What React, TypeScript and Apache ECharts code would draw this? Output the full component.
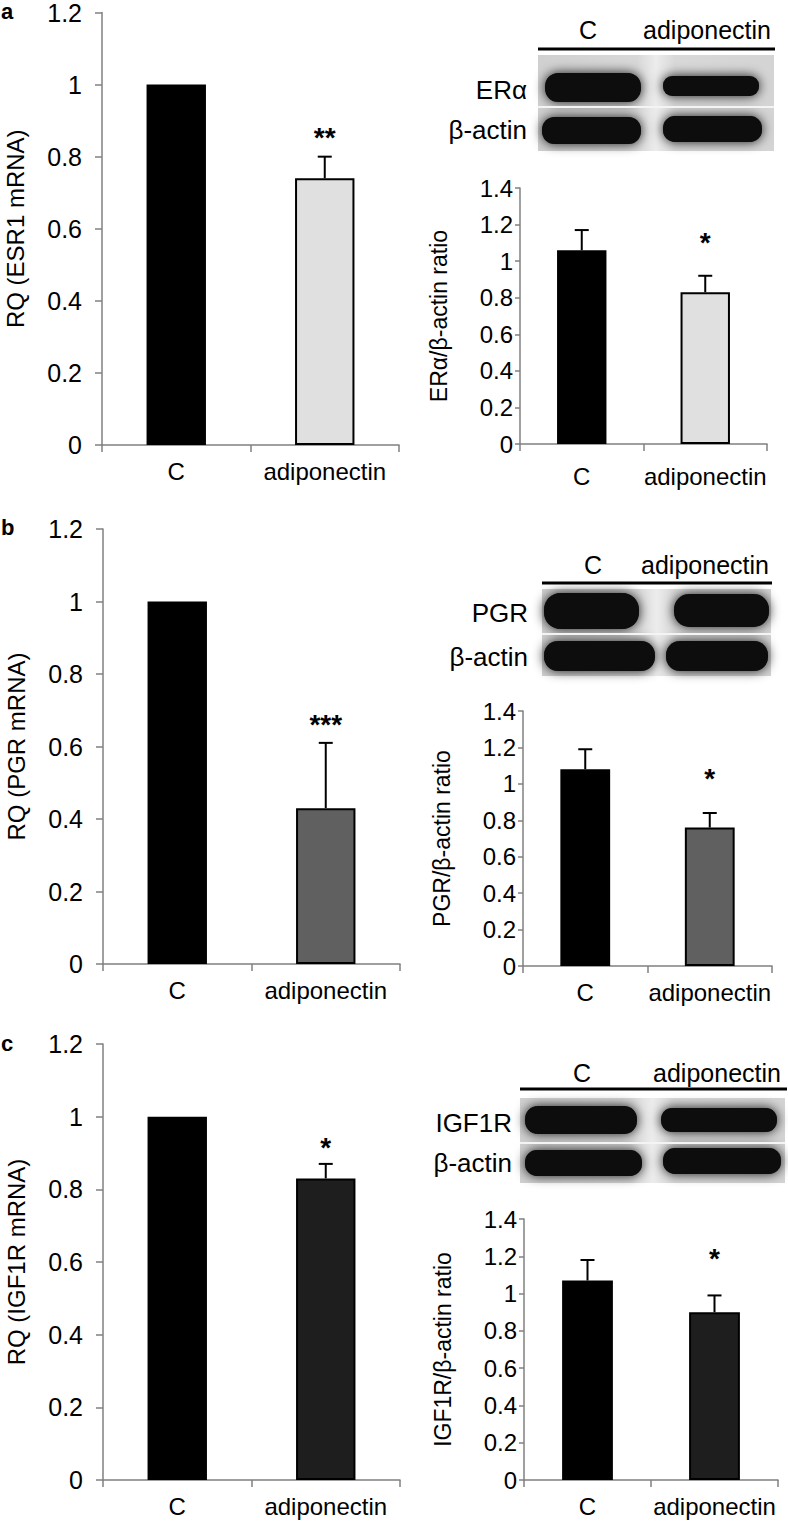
import React, { useEffect, useRef } from "react";
import * as echarts from "echarts";

// ---------- data ----------
const categories = ["C", "adiponectin"];

const esr1Mrna = [1.0, 0.74];
const esr1MrnaErr = [0, 0.06];
const esr1MrnaSig = ["", "**"];

const eraRatio = [1.06, 0.83];
const eraRatioErr = [0.11, 0.09];
const eraRatioSig = ["", "*"];

const pgrMrna = [1.0, 0.43];
const pgrMrnaErr = [0, 0.18];
const pgrMrnaSig = ["", "***"];

const pgrRatio = [1.08, 0.76];
const pgrRatioErr = [0.11, 0.08];
const pgrRatioSig = ["", "*"];

const igf1rMrna = [1.0, 0.83];
const igf1rMrnaErr = [0, 0.04];
const igf1rMrnaSig = ["", "*"];

const igf1rRatio = [1.07, 0.9];
const igf1rRatioErr = [0.11, 0.09];
const igf1rRatioSig = ["", "*"];

const mrnaAxisMax = 1.2;
const ratioAxisMax = 1.4;
const tickStep = 0.2;

const yNames = [
  "RQ (ESR1 mRNA)",
  "ERα/β-actin ratio",
  "RQ (PGR mRNA)",
  "PGR/β-actin ratio",
  "RQ (IGF1R mRNA)",
  "IGF1R/β-actin ratio",
];
const panelLetters = ["a", "b", "c"];
const blotProteins = ["ERα", "PGR", "IGF1R"];
const loadingLabel = "β-actin";

// ---------- styling / layout ----------
const FONT = "'Liberation Sans', Arial, Helvetica, sans-serif";
const AXIS_GRAY = "#808080";
const adipColors = ["#e0e0e0", "#606060", "#1e1e1e"];

type ChartDef = {
  values: number[];
  errs: number[];
  sigs: string[];
  max: number;
  name: string;
  grid: { left: number; top: number; width: number; height: number };
  adipColor: string;
  right: boolean;
  starOffset: number;
  xMargin: number;
};

const charts: ChartDef[] = [
  { values: esr1Mrna, errs: esr1MrnaErr, sigs: esr1MrnaSig, max: mrnaAxisMax, name: yNames[0], grid: { left: 102, top: 10, width: 297, height: 435 }, adipColor: adipColors[0], right: false, starOffset: 19, xMargin: 14 },
  { values: eraRatio, errs: eraRatioErr, sigs: eraRatioSig, max: ratioAxisMax, name: yNames[1], grid: { left: 520, top: 188, width: 247, height: 256 }, adipColor: adipColors[0], right: true, starOffset: 33, xMargin: 20 },
  { values: pgrMrna, errs: pgrMrnaErr, sigs: pgrMrnaSig, max: mrnaAxisMax, name: yNames[2], grid: { left: 103, top: 529, width: 297, height: 435 }, adipColor: adipColors[1], right: false, starOffset: 18, xMargin: 14 },
  { values: pgrRatio, errs: pgrRatioErr, sigs: pgrRatioSig, max: ratioAxisMax, name: yNames[3], grid: { left: 523, top: 711, width: 249, height: 255 }, adipColor: adipColors[1], right: true, starOffset: 35, xMargin: 14 },
  { values: igf1rMrna, errs: igf1rMrnaErr, sigs: igf1rMrnaSig, max: mrnaAxisMax, name: yNames[4], grid: { left: 103, top: 1044, width: 297, height: 436 }, adipColor: adipColors[2], right: false, starOffset: 16, xMargin: 14 },
  { values: igf1rRatio, errs: igf1rRatioErr, sigs: igf1rRatioSig, max: ratioAxisMax, name: yNames[5], grid: { left: 524, top: 1219, width: 254, height: 261 }, adipColor: adipColors[2], right: true, starOffset: 37, xMargin: 14 },
];

// blot layout (decorative western-blot imitations)
type Blot = {
  header: { cX: number; aX: number; y: number; lineX1: number; lineX2: number; lineY: number };
  bg: [number, number, number, number];
  sepY: number;
  labelX: number;
  labelY: [number, number];
  bands: [number, number, number, number][];
};
const blots: Blot[] = [
  {
    header: { cX: 588, aX: 707, y: 30, lineX1: 538, lineX2: 775, lineY: 49 },
    bg: [538, 55, 236, 96],
    sepY: 107,
    labelX: 527,
    labelY: [90, 130],
    bands: [
      [545, 73, 96, 29],
      [663, 76, 96, 20],
      [542, 117, 99, 27],
      [663, 116, 99, 26],
    ],
  },
  {
    header: { cX: 593, aX: 705, y: 565, lineX1: 542, lineX2: 772, lineY: 583 },
    bg: [542, 589, 229, 87],
    sepY: 634,
    labelX: 528,
    labelY: [613, 657],
    bands: [
      [544, 593, 95, 36],
      [674, 594, 95, 33],
      [544, 641, 111, 30],
      [666, 641, 102, 30],
    ],
  },
  {
    header: { cX: 582, aX: 717, y: 1073, lineX1: 520, lineX2: 787, lineY: 1089 },
    bg: [520, 1098, 265, 85],
    sepY: 1143,
    labelX: 512,
    labelY: [1123, 1163],
    bands: [
      [525, 1106, 112, 28],
      [661, 1108, 116, 24],
      [525, 1150, 117, 26],
      [663, 1148, 118, 26],
    ],
  },
];

function buildGraphics(): any[] {
  const g: any[] = [];
  const letterYs = [0, 516, 1032];
  panelLetters.forEach((l, i) => {
    g.push({
      type: "text",
      x: 1,
      y: letterYs[i],
      style: { text: l, fill: "#000", font: `bold 22px ${FONT}`, align: "left", verticalAlign: "top" },
    });
  });
  blots.forEach((b, i) => {
    const h = b.header;
    g.push({ type: "text", x: h.cX, y: h.y, style: { text: categories[0], fill: "#000", font: `25px ${FONT}`, align: "center", verticalAlign: "middle" } });
    g.push({ type: "text", x: h.aX, y: h.y, style: { text: categories[1], fill: "#000", font: `25px ${FONT}`, align: "center", verticalAlign: "middle" } });
    g.push({ type: "line", shape: { x1: h.lineX1, y1: h.lineY, x2: h.lineX2, y2: h.lineY }, style: { stroke: "#000", lineWidth: 3 } });
    const [bx, by, bw, bh] = b.bg;
    g.push({
      type: "rect",
      shape: { x: bx, y: by, width: bw, height: bh },
      style: {
        fill: {
          type: "linear", x: 0, y: 0, x2: 1, y2: 0,
          colorStops: [
            { offset: 0, color: "#d0d0d0" },
            { offset: 0.42, color: "#d8d8d8" },
            { offset: 0.5, color: "#ececec" },
            { offset: 0.58, color: "#d8d8d8" },
            { offset: 1, color: "#d4d4d4" },
          ],
        },
      },
    });
    b.bands.forEach(([x, y, w, hh]) => {
      g.push({
        type: "rect",
        shape: { x, y, width: w, height: hh, r: hh / 2.2 },
        style: { fill: "#080808", shadowBlur: 12, shadowColor: "rgba(0,0,0,0.9)" },
      });
    });
    g.push({ type: "line", shape: { x1: bx, y1: b.sepY, x2: bx + bw, y2: b.sepY }, style: { stroke: "#f4f4f4", lineWidth: 2 } });
    g.push({ type: "text", x: b.labelX, y: b.labelY[0], style: { text: blotProteins[i], fill: "#000", font: `26px ${FONT}`, align: "right", verticalAlign: "middle" } });
    g.push({ type: "text", x: b.labelX, y: b.labelY[1], style: { text: loadingLabel, fill: "#000", font: `26px ${FONT}`, align: "right", verticalAlign: "middle" } });
  });
  return g;
}

function errorSeries(idx: number, c: ChartDef) {
  return {
    type: "custom",
    xAxisIndex: idx,
    yAxisIndex: idx,
    z: 5,
    silent: true,
    data: c.values.map((v, i) => [i, v, c.errs[i]]),
    renderItem: (params: any, api: any) => {
      const i = api.value(0);
      const v = api.value(1);
      const e = api.value(2);
      const sig = c.sigs[params.dataIndex];
      const base = api.coord([i, v]);
      const top = api.coord([i, v + e]);
      const children: any[] = [];
      if (e > 0) {
        children.push({ type: "line", shape: { x1: base[0], y1: base[1], x2: top[0], y2: top[1] }, style: { stroke: "#000", lineWidth: 2 } });
        children.push({ type: "line", shape: { x1: top[0] - 7, y1: top[1], x2: top[0] + 7, y2: top[1] }, style: { stroke: "#000", lineWidth: 2 } });
      }
      if (sig) {
        children.push({
          type: "text",
          x: top[0],
          y: top[1] - c.starOffset,
          style: { text: sig, fill: "#000", font: `bold 28px ${FONT}`, align: "center", verticalAlign: "middle" },
        });
      }
      return { type: "group", children };
    },
  };
}

function buildOption(): any {
  const grid = charts.map((c) => ({ ...c.grid, containLabel: false }));
  const xAxis = charts.map((c, k) => ({
    gridIndex: k,
    type: "category",
    data: categories,
    axisLine: { lineStyle: { color: AXIS_GRAY, width: 1.5 } },
    axisTick: { show: true, length: 7, lineStyle: { color: AXIS_GRAY, width: 1.5 } },
    axisLabel: { color: "#000", fontSize: 24, fontFamily: FONT, margin: c.xMargin, interval: 0 },
  }));
  const yAxis = charts.map((c, k) => ({
    gridIndex: k,
    type: "value",
    min: 0,
    max: c.max,
    interval: tickStep,
    splitLine: { show: false },
    axisLine: { show: true, lineStyle: { color: AXIS_GRAY, width: 1.5 } },
    axisTick: { show: true, length: c.right ? 5 : 7, lineStyle: { color: AXIS_GRAY, width: 1.5 } },
    axisLabel: {
      color: "#000",
      fontSize: c.right ? 24 : 25,
      fontFamily: FONT,
      margin: c.right ? 7 : 20,
    },
    name: c.name,
    nameLocation: "middle",
    nameGap: c.right ? 70 : 75,
    nameTextStyle: { color: "#000", fontSize: c.right ? 23 : 24, fontFamily: FONT },
  }));
  const series: any[] = [];
  charts.forEach((c, k) => {
    series.push({
      type: "bar",
      xAxisIndex: k,
      yAxisIndex: k,
      barWidth: "40%",
      silent: true,
      data: c.values.map((v, i) => ({
        value: v,
        itemStyle: { color: i === 0 ? "#000" : c.adipColor, borderColor: "#000", borderWidth: 2 },
      })),
    });
    series.push(errorSeries(k, c));
  });
  return {
    animation: false,
    backgroundColor: "#fff",
    grid,
    xAxis,
    yAxis,
    series,
    graphic: buildGraphics(),
  };
}

export default function App() {
  const ref = useRef<HTMLDivElement>(null);
  useEffect(() => {
    if (!ref.current) return;
    const chart = echarts.init(ref.current, undefined, { renderer: "svg" });
    chart.setOption(buildOption());
    return () => chart.dispose();
  }, []);
  return (
    <div
      ref={ref}
      style={{ position: "absolute", left: 0, top: 0, width: 788, height: 1522, background: "#fff" }}
    />
  );
}
